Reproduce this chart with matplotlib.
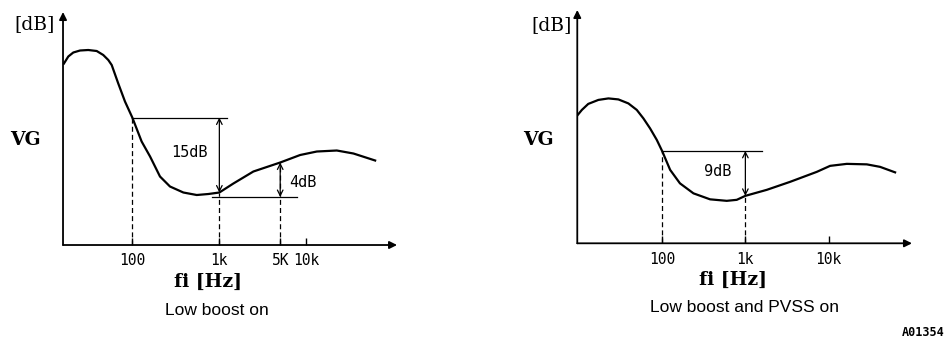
import matplotlib.pyplot as plt

# values (VG in dB above the axis, 5 px per dB)
freq_left = [16.4, 18.4, 21.0, 25.1, 31.2, 39.0, 46.4, 53.0, 58.0, 69.0, 82.4,
             100, 128, 160, 208, 271, 386, 550, 748, 1000, 1449, 2460, 5000,
             8470, 13180, 22340, 34700, 61600]
vg_left = [36.3, 37.7, 38.5, 38.9, 39.0, 38.8, 38.0, 37.0, 36.0, 32.3, 28.7,
           25.5, 20.7, 17.7, 13.7, 11.7, 10.5, 10.0, 10.2, 10.5, 12.3, 14.7,
           16.5, 18.0, 18.7, 18.9, 18.3, 16.9]

freq_right = [9.73, 10.9, 13.0, 17.2, 22.7, 29.9, 39.4, 49.7, 59.7, 71.8, 86.4,
              100, 125, 164, 238, 377, 598, 788, 1000, 1807, 3440, 7200, 10400,
              16500, 28700, 41400, 62700]
vg_right = [25.7, 26.7, 27.9, 28.7, 29.0, 28.8, 28.0, 26.7, 25.0, 23.0, 20.7,
            18.5, 14.7, 12.0, 10.0, 8.8, 8.5, 8.7, 9.5, 10.7, 12.3, 14.3, 15.5,
            15.9, 15.8, 15.3, 14.2]

ticks_left = [100, 1000, 5000, 10000]
ticklabels_left = ['100', '1k', '5K', '10k']
ticks_right = [100, 1000, 10000]
ticklabels_right = ['100', '1k', '10k']

# dashed drop lines and dB steps
drops_left = [100, 1000, 5000]
drops_right = [100, 1000]
step_left_15 = (1000, 25.5, 10.5)   # freq, top, bottom
step_left_4 = (5000, 16.5, 9.6)
step_right_9 = (1000, 18.5, 9.5)

SERIF = 'DejaVu Serif'
MONO = 'DejaVu Sans Mono'
SANS = 'Liberation Sans'

fig = plt.figure(figsize=(9.49, 3.42), dpi=100)
ax1 = fig.add_axes([0.0664, 0.2836, 0.3520, 0.6813])
ax2 = fig.add_axes([0.6083, 0.2886, 0.3527, 0.6822])


def setup(ax, xlim, ylim, ticks, labels):
    ax.set_xscale('log')
    ax.set_xlim(xlim)
    ax.set_ylim(ylim)
    for s in ax.spines.values():
        s.set_visible(False)
    ax.set_xticks(ticks)
    ax.set_xticklabels(labels, fontfamily=MONO, fontsize=10.5)
    ax.xaxis.set_minor_locator(plt.NullLocator())
    ax.tick_params(axis='x', direction='in', length=5, width=1, pad=6)
    ax.set_yticks([])
    arrow = dict(arrowstyle='-|>', lw=1.3, color='black',
                 mutation_scale=11, shrinkA=0, shrinkB=0)
    ax.annotate('', xy=(1, 0), xytext=(0, 0), xycoords='axes fraction',
                arrowprops=arrow)
    ax.annotate('', xy=(0, 1), xytext=(0, 0), xycoords='axes fraction',
                arrowprops=arrow)


def drops(ax, fs, xs, ys):
    for f in fs:
        # height of the curve at that frequency, read from the data list
        y = ys[xs.index(f)]
        ax.plot([f, f], [0, y], color='black', lw=0.9, ls=(0, (4, 2.5)))


def step(ax, f, top, bottom):
    ax.annotate('', xy=(f, bottom), xytext=(f, top),
                arrowprops=dict(arrowstyle='<->', lw=0.9, color='black',
                                shrinkA=0, shrinkB=0, mutation_scale=10))


# left panel
setup(ax1, (16.0, 110000), (0, 46.6), ticks_left, ticklabels_left)
ax1.plot(freq_left, vg_left, color='black', lw=1.6, solid_joinstyle='round')
drops(ax1, drops_left, freq_left, vg_left)
ax1.plot([100, 1228], [25.5, 25.5], color='black', lw=0.9)
ax1.plot([818, 7770], [9.6, 9.6], color='black', lw=0.9)
step(ax1, *step_left_15)
step(ax1, *step_left_4)
ax1.text(449, 18.6, '15dB', fontfamily=MONO, fontsize=11, ha='center', va='center')
ax1.text(6300, 12.6, '4dB', fontfamily=MONO, fontsize=11, ha='left', va='center')

ax1.text(-0.111, 0.451, 'VG', transform=ax1.transAxes, fontfamily=SERIF,
         fontsize=13.5, fontweight='bold', ha='center', va='center')
ax1.text(-0.024, 0.948, '[dB]', transform=ax1.transAxes, fontfamily=SERIF,
         fontsize=13.5, ha='right', va='center')
ax1.text(0.434, -0.159, 'fi [Hz]', transform=ax1.transAxes, fontfamily=SERIF,
         fontsize=13.5, fontweight='bold', ha='center', va='center')
ax1.text(0.461, -0.279, 'Low boost on', transform=ax1.transAxes,
         fontfamily=SANS, fontsize=12.5, ha='center', va='center')

# right panel
setup(ax2, (9.6, 100000), (0, 46.7), ticks_right, ticklabels_right)
ax2.plot(freq_right, vg_right, color='black', lw=1.6, solid_joinstyle='round')
drops(ax2, drops_right, freq_right, vg_right)
ax2.plot([100, 1585], [18.5, 18.5], color='black', lw=0.9)
step(ax2, *step_right_9)
ax2.text(470, 14.3, '9dB', fontfamily=MONO, fontsize=11, ha='center', va='center')

ax2.text(-0.116, 0.443, 'VG', transform=ax2.transAxes, fontfamily=SERIF,
         fontsize=13.5, fontweight='bold', ha='center', va='center')
ax2.text(-0.016, 0.934, '[dB]', transform=ax2.transAxes, fontfamily=SERIF,
         fontsize=13.5, ha='right', va='center')
ax2.text(0.465, -0.157, 'fi [Hz]', transform=ax2.transAxes, fontfamily=SERIF,
         fontsize=13.5, fontweight='bold', ha='center', va='center')
ax2.text(0.501, -0.277, 'Low boost and PVSS on', transform=ax2.transAxes,
         fontfamily=SANS, fontsize=12.5, ha='center', va='center')

fig.text(0.9958, 0.029, 'A01354', fontfamily=MONO, fontsize=8.5,
         fontweight='bold', ha='right', va='center')

fig.savefig('out.png', dpi=100)
